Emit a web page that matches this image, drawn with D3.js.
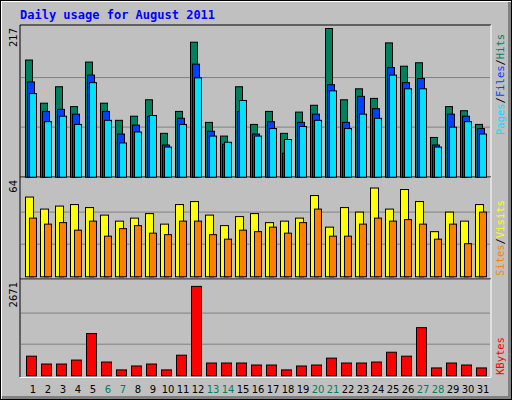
<!DOCTYPE html>
<html><head><meta charset="utf-8">
<script src="https://cdn.jsdelivr.net/npm/d3@7"></script>
<style>body{margin:0;background:#fff}svg{display:block}</style>
</head><body>
<svg id="chart" width="512" height="400"></svg>
<script>
const days = d3.range(1, 32);
const weekend = [6, 7, 13, 14, 20, 21, 27, 28];
const hits = [171,108,132,103,168,108,83,89,113,64,96,197,80,60,132,77,96,64,95,105,217,113,129,115,196,162,167,58,103,97,77];
const files = [139,96,99,92,149,96,63,76,89,47,86,165,67,48,96,63,81,35,80,92,135,80,118,100,160,138,144,47,92,89,71];
const pages = [122,81,89,77,138,83,50,66,90,44,77,145,60,51,112,60,71,55,74,83,126,71,92,86,149,129,129,44,73,81,63];
const visits = [53,45,47,48,46,41,37,39,42,35,48,50,41,34,40,42,36,37,39,54,33,46,43,59,45,58,50,30,43,37,48];
const sites = [39,35,36,31,37,27,32,34,29,28,37,37,28,25,31,30,33,29,36,45,27,27,35,39,37,38,35,25,35,22,43];
const kbytes = [562,337,337,450,1209,394,169,281,337,169,590,2560,366,366,366,309,309,169,281,309,506,366,366,394,675,562,1378,225,366,309,225];

const svg = d3.select("#chart");
const font = "'DejaVu Sans Mono', monospace";

// background + bevel
svg.append("rect").attr("width", 512).attr("height", 400).attr("fill", "#000");
svg.append("rect").attr("x", 1).attr("y", 1).attr("width", 510).attr("height", 398).attr("fill", "#fff");
svg.append("rect").attr("x", 2).attr("y", 2).attr("width", 509).attr("height", 397).attr("fill", "#808080");
svg.append("rect").attr("x", 2).attr("y", 2).attr("width", 506).attr("height", 394).attr("fill", "#c0c0c0");

svg.append("text").attr("x", 20).attr("y", 19).attr("fill", "#0000ff")
  .attr("font-family", font).attr("font-weight", "bold").attr("font-size", 12)
  .text("Daily usage for August 2011");

const x = d3.scaleBand().domain(days).range([25, 490]);

const panels = [
  {top: 25, bottom: 177, base: 176.7, max: 217, label: "217"},
  {top: 177, bottom: 279, base: 276.3, max: 64, label: "64"},
  {top: 279, bottom: 377, base: 375.3, max: 2671, label: "2671"}
];

panels.forEach(p => {
  p.y = d3.scaleLinear().domain([0, p.max]).range([p.base, p.base - (p.base - p.top - 3)]);
  // frame
  svg.append("line").attr("x1", 20).attr("x2", 491).attr("y1", p.top).attr("y2", p.top).attr("stroke", "#000");
  svg.append("line").attr("x1", 20).attr("x2", 20).attr("y1", p.top).attr("y2", p.bottom).attr("stroke", "#000");
  svg.append("line").attr("x1", 491).attr("x2", 491).attr("y1", p.top).attr("y2", p.bottom).attr("stroke", "#fff");
  svg.append("line").attr("x1", 20).attr("x2", 491).attr("y1", p.bottom + 0.5).attr("y2", p.bottom + 0.5).attr("stroke", "#fff");
  [1, 2].forEach(i => {
    const gy = p.y(p.max * i / 3);
    svg.append("line").attr("x1", 21).attr("x2", 490).attr("y1", gy).attr("y2", gy).attr("stroke", "#808080");
  });
  svg.append("text").attr("transform", `translate(17,${p.top + 3}) rotate(-90)`)
    .attr("text-anchor", "end").attr("font-family", "'DejaVu Sans', sans-serif").attr("font-size", 10)
    .text(p.label);
});

function bars(data, panel, dx, w, color) {
  svg.append("g").selectAll("rect").data(data).enter().append("rect")
    .attr("x", (d, i) => x(days[i]) + dx + 0.5)
    .attr("y", d => panel.y(d) + 0.5)
    .attr("width", w)
    .attr("height", d => panel.base - panel.y(d))
    .attr("fill", color).attr("stroke", "#000");
}
bars(hits, panels[0], 0, 7, "#00805c");
bars(files, panels[0], 2, 7, "#0040ff");
bars(pages, panels[0], 4, 7, "#00e0ff");
bars(visits, panels[1], 0, 8, "#ffff00");
bars(sites, panels[1], 4, 7, "#ff8000");
bars(kbytes, panels[2], 1, 10, "#ff0000");

// day labels
svg.append("g").selectAll("text").data(days).enter().append("text")
  .attr("x", d => x(d) + 8).attr("y", 393).attr("text-anchor", "middle")
  .attr("font-family", "'DejaVu Sans', sans-serif").attr("font-size", 10)
  .attr("fill", d => weekend.includes(d) ? "#00805c" : "#000")
  .text(d => d);

// right legends
function legend(yEnd, parts) {
  const t = svg.append("text").attr("transform", `translate(504,${yEnd}) rotate(-90)`)
    .attr("font-family", font).attr("font-size", 10.5);
  parts.forEach(([s, c]) => t.append("tspan").attr("fill", c).text(s));
}
legend(135, [["Pages", "#00e0ff"], ["/", "#000"], ["Files", "#0040ff"], ["/", "#000"], ["Hits", "#00805c"]]);
legend(276, [["Sites", "#ff8000"], ["/", "#000"], ["Visits", "#ffff00"]]);
legend(375, [["KBytes", "#ff0000"]]);
</script>
</body></html>
